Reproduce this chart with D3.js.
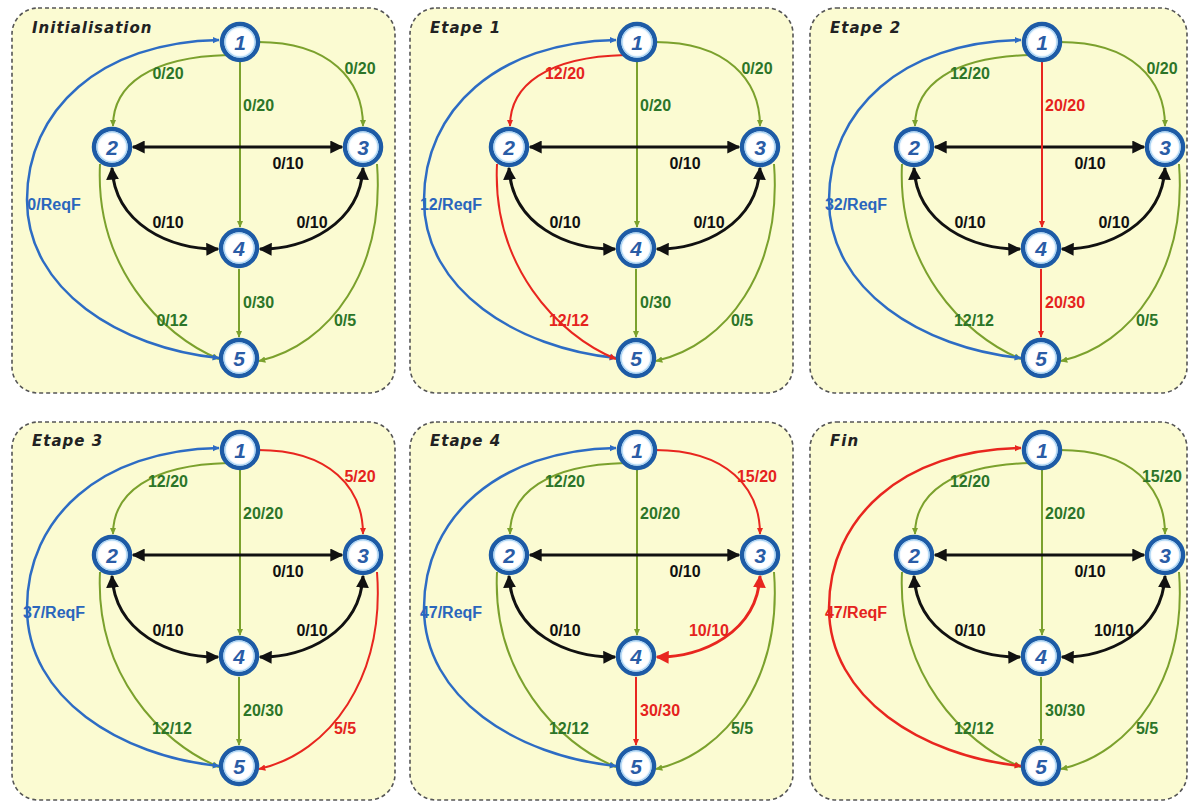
<!DOCTYPE html>
<html>
<head>
<meta charset="utf-8">
<script src="https://cdn.jsdelivr.net/npm/d3@7"></script>
<style>
  html, body { margin: 0; padding: 0; background: #ffffff; }
  svg { display: block; }
</style>
</head>
<body>
<script>
// ---------------- DATA ----------------
const panelTitles = ["Initialisation", "Etape 1", "Etape 2", "Etape 3", "Etape 4", "Fin"];
const nodeIds = ["1", "2", "3", "4", "5"];
const edgeIds = ["1-2", "1-3", "1-4", "2-3", "2-4", "3-4", "4-5", "2-5", "3-5", "5-1"];
const edgeKinds = ["flow", "flow", "flow", "both", "both", "both", "flow", "flow", "flow", "return"];
const capacities = ["20", "20", "20", "10", "10", "10", "30", "12", "5", "ReqF"];
const flowInit   = [0, 0, 0, 0, 0, 0, 0, 0, 0, 0];
const flowEtape1 = [12, 0, 0, 0, 0, 0, 0, 12, 0, 12];
const flowEtape2 = [12, 0, 20, 0, 0, 0, 20, 12, 0, 32];
const flowEtape3 = [12, 5, 20, 0, 0, 0, 20, 12, 5, 37];
const flowEtape4 = [12, 15, 20, 0, 0, 10, 30, 12, 5, 47];
const flowFin    = [12, 15, 20, 0, 0, 10, 30, 12, 5, 47];
const panelFlows = [flowInit, flowEtape1, flowEtape2, flowEtape3, flowEtape4, flowFin];
const augmentingPaths = [[], ["1-2", "2-5"], ["1-4", "4-5"], ["1-3", "3-5"], ["1-3", "3-4", "4-5"], ["5-1"]];

// ---------------- LAYOUT ----------------
const W = 1189, H = 805;
const svg = d3.select("body").append("svg").attr("width", W).attr("height", H);

const colOffset = d3.scaleOrdinal().domain([0, 1, 2]).range([0, 397, 802]);
const rowOffset = d3.scaleOrdinal().domain([0, 1]).range([0, 408]);
const rectX = d3.scaleOrdinal().domain([0, 1, 2]).range([12, 410, 810]);
const rectW = d3.scaleOrdinal().domain([0, 1, 2]).range([383, 383, 377]);
const rectY = d3.scaleOrdinal().domain([0, 1]).range([8, 422]);
const rectH = d3.scaleOrdinal().domain([0, 1]).range([385, 378]);

// node positions inside a panel (local coordinates)
const nodePos = {"1": [240, 42], "2": [112, 147], "3": [363, 147], "4": [239, 248], "5": [239, 358]};
const R = 18;

// edge geometry (local coordinates)
const edgeGeom = {
  "1-2": {d: "M228,55 C150,57 113,85 113,126", lx: 168, ly: 73, anchor: "middle"},
  "1-3": {d: "M258,42 C330,42 363,80 363,126", lx: 360, ly: 68, anchor: "middle"},
  "1-4": {d: "M240,60 L240,227", lx: 243, ly: 105, anchor: "start"},
  "2-3": {d: "M133,147 L342,147", lx: 288, ly: 163, anchor: "middle"},
  "2-4": {d: "M112,168 C115,224 170,250 218,249", lx: 168, ly: 222, anchor: "middle"},
  "3-4": {d: "M363,168 C360,224 305,250 260,249", lx: 312, ly: 222, anchor: "middle"},
  "4-5": {d: "M239,269 L239,337", lx: 243, ly: 302, anchor: "start"},
  "2-5": {d: "M100,164 C95,265 160,335 219,359", lx: 172, ly: 320, anchor: "middle"},
  "3-5": {d: "M377,164 C385,270 330,345 259,361", lx: 345, ly: 320, anchor: "middle"},
  "5-1": {d: "M219,358 C120,348 27,290 27,200 C27,110 100,42 219,40", lx: 54, ly: 204, anchor: "middle"}
};

const lineColor = d3.scaleOrdinal().domain(["flow", "both", "return", "hot"])
  .range(["#7ba12d", "#111111", "#2d6cc4", "#e8261f"]);
const textColor = d3.scaleOrdinal().domain(["flow", "both", "return", "hot"])
  .range(["#2c7528", "#111111", "#2a66bd", "#e5231d"]);
const lineWidth = d3.scaleOrdinal().domain(["flow", "both", "return"]).range([2, 3, 2.5]);
const headSize = d3.scaleOrdinal().domain(["flow", "both", "return"]).range([7, 13, 7]);

// markers
const defs = svg.append("defs");
["flow", "both", "return"].forEach(kind => {
  ["flow", "both", "return", "hot"].forEach(c => {
    const s = headSize(kind);
    defs.append("marker")
      .attr("id", `m-${kind}-${c}`)
      .attr("viewBox", "0 -5 10 10")
      .attr("refX", 9)
      .attr("refY", 0)
      .attr("markerUnits", "userSpaceOnUse")
      .attr("markerWidth", s)
      .attr("markerHeight", s)
      .attr("orient", "auto-start-reverse")
      .append("path")
      .attr("d", kind === "both" ? "M0,-5L10,0L0,5Z" : "M0,-4.5L10,0L0,4.5Z")
      .attr("fill", lineColor(c));
  });
});

// node gradient
const grad = defs.append("radialGradient").attr("id", "ringGrad");
grad.append("stop").attr("offset", "70%").attr("stop-color", "#ffffff");
grad.append("stop").attr("offset", "88%").attr("stop-color", "#d8ecfb");
grad.append("stop").attr("offset", "100%").attr("stop-color", "#8cc2ee");

panelTitles.forEach((title, i) => {
  const col = i % 3, row = Math.floor(i / 3);
  const flows = panelFlows[i];
  const hot = augmentingPaths[i];

  // panel box
  svg.append("rect")
    .attr("x", rectX(col)).attr("y", rectY(row))
    .attr("width", rectW(col)).attr("height", rectH(row))
    .attr("rx", 26).attr("ry", 26)
    .attr("fill", "#fbfbd2")
    .attr("stroke", "#555555").attr("stroke-width", 1.6)
    .attr("stroke-dasharray", "4,3");

  svg.append("text")
    .attr("x", rectX(col) + 20).attr("y", rectY(row) + 25 - row)
    .attr("font-family", "DejaVu Sans, Verdana, sans-serif")
    .attr("font-weight", "bold").attr("font-style", "italic")
    .attr("font-size", 15).attr("letter-spacing", 1)
    .attr("fill", "#222222")
    .text(title);

  const g = svg.append("g")
    .attr("transform", `translate(${colOffset(col)},${rowOffset(row)})`);

  const edges = edgeIds.map((id, k) => ({
    id, kind: edgeKinds[k], cap: capacities[k], flow: flows[k],
    status: hot.includes(id) ? "hot" : edgeKinds[k]
  }));

  const ordered = edges.filter(e => e.status !== "hot").concat(edges.filter(e => e.status === "hot"));

  g.selectAll("path.edge").data(ordered).join("path")
    .attr("class", "edge")
    .attr("d", e => edgeGeom[e.id].d)
    .attr("fill", "none")
    .attr("stroke", e => lineColor(e.status))
    .attr("stroke-width", e => lineWidth(e.kind))
    .attr("marker-end", e => `url(#m-${e.kind}-${e.status})`)
    .attr("marker-start", e => e.kind === "flow" ? null : `url(#m-${e.kind}-${e.status})`);

  g.selectAll("text.lbl").data(edges).join("text")
    .attr("class", "lbl")
    .attr("x", e => edgeGeom[e.id].lx)
    .attr("y", e => edgeGeom[e.id].ly)
    .attr("dy", "0.36em")
    .attr("text-anchor", e => edgeGeom[e.id].anchor)
    .attr("font-family", "Liberation Sans, Arial, sans-serif")
    .attr("font-weight", "bold")
    .attr("font-size", 16)
    .attr("fill", e => textColor(e.status))
    .text(e => `${e.flow}/${e.cap}`);

  // nodes
  const nodes = g.selectAll("g.node").data(nodeIds).join("g")
    .attr("class", "node")
    .attr("transform", n => `translate(${nodePos[n][0]},${nodePos[n][1]})`);
  nodes.append("circle").attr("r", R)
    .attr("fill", "url(#ringGrad)")
    .attr("stroke", "#1d5ba6").attr("stroke-width", 4.5);
  nodes.append("circle").attr("r", R - 3)
    .attr("fill", "none")
    .attr("stroke", "#a9d3f3").attr("stroke-width", 1.2);
  nodes.append("text")
    .attr("text-anchor", "middle").attr("dy", "0.36em")
    .attr("font-family", "Liberation Sans, Arial, sans-serif")
    .attr("font-weight", "bold").attr("font-style", "italic")
    .attr("font-size", 21)
    .attr("fill", "#2a5ca6")
    .text(n => n);
});
</script>
</body>
</html>
